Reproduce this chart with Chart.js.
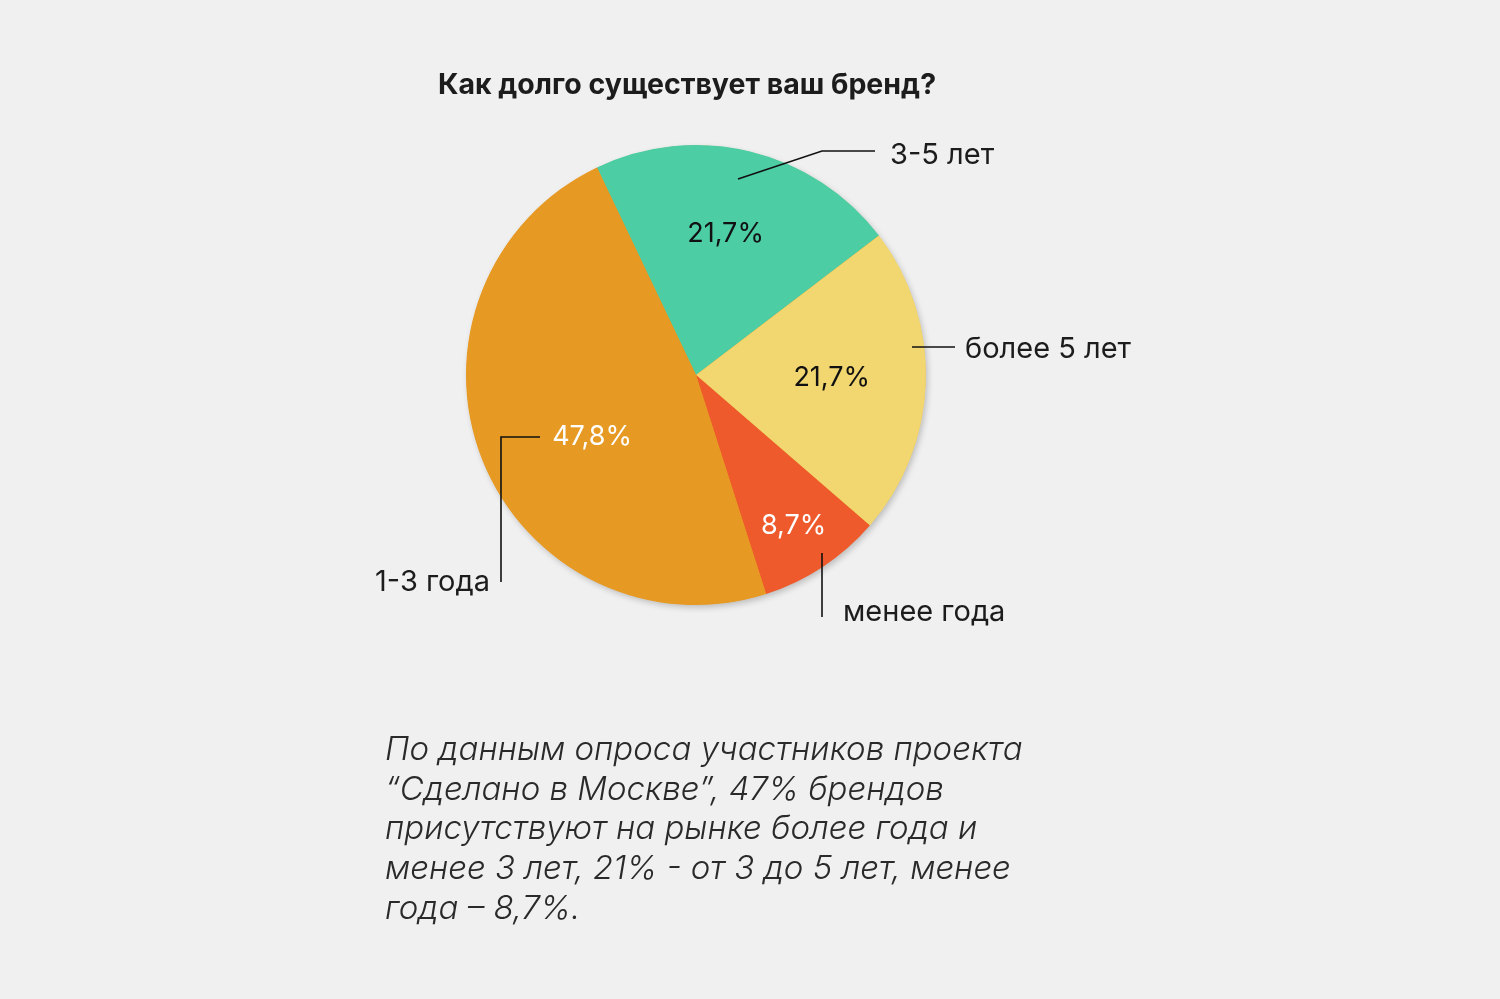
<!DOCTYPE html>
<html lang="ru">
<head>
<meta charset="utf-8">
<script src="https://cdn.jsdelivr.net/npm/chart.js@4.4.1/dist/chart.umd.min.js"></script>
<style>
  html, body { margin: 0; padding: 0; background: #f0f0f0; }
  body { width: 1500px; height: 999px; position: relative; overflow: hidden; font-family: Inter, "Noto Sans", sans-serif; }
  #c { position: absolute; left: 0; top: 0; }
  #title { position: absolute; left: 0; width: 1374px; top: 66px; text-align: center; font-weight: 700; font-size: 28.5px; color: #1c1c1c; letter-spacing: 0; }
  #caption { position: absolute; left: 385px; top: 729px; width: 720px; font-style: italic; font-weight: 300; font-size: 33px; line-height: 39.7px; color: #2a2a2a; }
</style>
</head>
<body>
<canvas id="c" width="1500" height="999"></canvas>
<div id="title">Как долго существует ваш бренд?</div>
<div id="caption">По данным опроса участников проекта<br>“Сделано в Москве”, 47% брендов<br>присутствуют на рынке более года и<br>менее 3 лет, 21% - от 3 до 5 лет, менее<br>года – 8,7%.</div>
<script>
const categories = ["3-5 лет", "более 5 лет", "менее года", "1-3 года"];
const values = [21.7, 21.7, 8.7, 47.8];
const valueLabels = ["21,7%", "21,7%", "8,7%", "47,8%"];
const colors = ["#4ccda3", "#f2d66f", "#ef5a2c", "#e69923"];
const valueColors = ["#111111", "#111111", "#ffffff", "#ffffff"];

// placement of the value labels: radius fraction and angle offset (deg) relative to slice middle
const valuePlacement = [
  { r: 0.64, da: -2 },
  { r: 0.59, da: -2 },
  { r: 0.77, da: 0 },
  { r: 0.52, da: -8 }
];
// leader lines (offsets from the pie centre, px) and category text anchor
const leaders = [
  { pts: [[42,-196],[126,-224],[179,-224]], text: [194,-220], align: "left" },
  { pts: [[216,-28],[259,-28]], text: [269,-26], align: "left" },
  { pts: [[126,178],[126,242]], text: [147,237], align: "left" },
  { pts: [[-156,62],[-195,62],[-195,207]], text: [-206,207], align: "right" }
];

const shadowPlugin = {
  id: "pieShadow",
  beforeDatasetsDraw(chart) {
    const arc = chart.getDatasetMeta(0).data[0];
    if (!arc) return;
    const ctx = chart.ctx;
    ctx.save();
    ctx.shadowColor = "rgba(0,0,0,0.22)";
    ctx.shadowBlur = 6;
    ctx.shadowOffsetX = 2;
    ctx.shadowOffsetY = 3;
    ctx.fillStyle = "#e69923";
    ctx.beginPath();
    ctx.arc(arc.x, arc.y, arc.outerRadius - 0.5, 0, Math.PI * 2);
    ctx.fill();
    ctx.restore();
  }
};

const labelPlugin = {
  id: "pieLabels",
  afterDatasetsDraw(chart) {
    const meta = chart.getDatasetMeta(0);
    const ctx = chart.ctx;
    ctx.save();
    meta.data.forEach((arc, i) => {
      const p = valuePlacement[i];
      const mid = (arc.startAngle + arc.endAngle) / 2 + p.da * Math.PI / 180;
      const rr = arc.outerRadius * p.r;
      const x = arc.x + Math.cos(mid) * rr;
      const y = arc.y + Math.sin(mid) * rr + 3;
      ctx.font = "400 27px Inter, 'Noto Sans', sans-serif";
      ctx.fillStyle = valueColors[i];
      ctx.textAlign = "center";
      ctx.textBaseline = "middle";
      ctx.fillText(valueLabels[i], x, y);

      const L = leaders[i];
      ctx.strokeStyle = "#111111";
      ctx.lineWidth = 1.6;
      ctx.beginPath();
      L.pts.forEach((pt, k) => {
        const px = arc.x + pt[0], py = arc.y + pt[1];
        if (k === 0) ctx.moveTo(px, py); else ctx.lineTo(px, py);
      });
      ctx.stroke();
      ctx.fillStyle = "#1c1c1c";
      ctx.textAlign = L.align;
      ctx.font = "400 29px Inter, 'Noto Sans', sans-serif";
      ctx.fillText(categories[i], arc.x + L.text[0], arc.y + L.text[1]);
    });
    ctx.restore();
  }
};

new Chart(document.getElementById("c"), {
  type: "pie",
  data: {
    labels: categories,
    datasets: [{
      data: values,
      backgroundColor: colors,
      borderWidth: 0,
      hoverOffset: 0
    }]
  },
  options: {
    responsive: false,
    animation: false,
    rotation: -25.5,
    layout: { padding: { left: 466, right: 574, top: 145, bottom: 394 } },
    plugins: {
      legend: { display: false },
      tooltip: { enabled: false },
      title: { display: false }
    }
  },
  plugins: [shadowPlugin, labelPlugin]
});
</script>
</body>
</html>
